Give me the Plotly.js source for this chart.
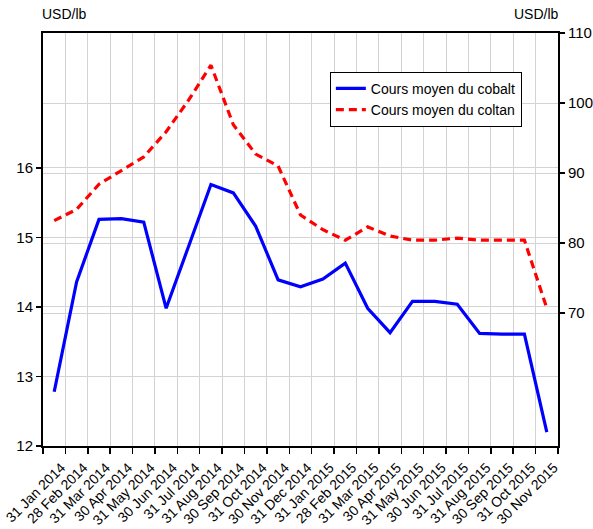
<!DOCTYPE html>
<html><head><meta charset="utf-8">
<script src="https://cdn.plot.ly/plotly-3.0.1.min.js"></script>
<style>html,body{margin:0;padding:0;background:#fff}#chart{width:593px;height:529px}</style>
</head><body><div id="chart"></div>
<script>
const months = ["31 Jan 2014","28 Feb 2014","31 Mar 2014","30 Apr 2014","31 May 2014","30 Jun 2014","31 Jul 2014","31 Aug 2014","30 Sep 2014","31 Oct 2014","30 Nov 2014","31 Dec 2014","31 Jan 2015","28 Feb 2015","31 Mar 2015","30 Apr 2015","31 May 2015","30 Jun 2015","31 Jul 2015","31 Aug 2015","30 Sep 2015","31 Oct 2015","30 Nov 2015"];
const cobalt = [12.78,14.36,15.26,15.27,15.22,13.98,14.87,15.76,15.64,15.16,14.39,14.29,14.40,14.63,13.98,13.63,14.08,14.08,14.04,13.62,13.61,13.61,12.20];
const coltan = [83.2,84.8,88.4,90.3,92.3,95.9,100.4,105.4,96.9,92.7,91.0,84.0,81.9,80.4,82.3,81.0,80.4,80.4,80.7,80.4,80.4,80.4,70.7];
const leftTicks = [12,13,14,15,16];
const rightTicks = [70,80,90,100,110];
const FONT = "Liberation Sans, Arial, sans-serif";

const traces = [
  {x: months, y: cobalt, type: "scatter", mode: "lines", name: "Cours moyen du cobalt",
   line: {color: "#0000FF", width: 3.2}, yaxis: "y"},
  {x: months, y: coltan, type: "scatter", mode: "lines", name: "Cours moyen du coltan",
   line: {color: "#FF0000", width: 3.2, dash: "8px,5px"}, yaxis: "y2"}
];
const layout = {
  width: 593, height: 529,
  margin: {l: 43, r: 35, t: 33, b: 83},
  paper_bgcolor: "#fff", plot_bgcolor: "#fff",
  font: {family: FONT, size: 14, color: "#000"},
  showlegend: true,
  legend: {x: 0.557, y: 0.906, xanchor: "left", yanchor: "top", bgcolor: "#fff",
           bordercolor: "#000", borderwidth: 1, font: {family: FONT, size: 14},
           tracegroupgap: 0, itemwidth: 30},
  xaxis: {type: "category", tickson: "boundaries", tickangle: -45,
          showgrid: true, gridcolor: "#d3d3d3", gridwidth: 1,
          showline: true, linecolor: "#000", linewidth: 2, mirror: true,
          ticks: "outside", ticklen: 6, tickcolor: "#000", tickwidth: 1.5,
          ticklabelstandoff: 6, ticklabelshift: 7,
          tickfont: {family: FONT, size: 14}, range: [-0.5, 22.5], zeroline: false},
  yaxis: {range: [12, 17.94], tickvals: leftTicks, showgrid: true, gridcolor: "#d3d3d3",
          showline: true, linecolor: "#000", linewidth: 2, ticks: "outside", ticklen: 5,
          tickcolor: "#000", tickwidth: 1.5, zeroline: false, tickfont: {family: FONT, size: 15}},
  yaxis2: {range: [51, 110], tickvals: rightTicks, overlaying: "y", side: "right",
          showgrid: true, gridcolor: "#d3d3d3",
          showline: true, linecolor: "#000", linewidth: 2, ticks: "outside", ticklen: 5,
          tickcolor: "#000", tickwidth: 1.5, zeroline: false, tickfont: {family: FONT, size: 15}},
  annotations: [
    {text: "USD/lb", xref: "paper", yref: "paper", x: 0, y: 1, xshift: -3, yshift: 9,
     xanchor: "left", yanchor: "bottom", showarrow: false, font: {family: FONT, size: 14}},
    {text: "USD/lb", xref: "paper", yref: "paper", x: 1, y: 1, xshift: 3, yshift: 9,
     xanchor: "right", yanchor: "bottom", showarrow: false, font: {family: FONT, size: 14}}
  ]
};
Plotly.newPlot("chart", traces, layout, {displayModeBar: false, staticPlot: true});
</script></body></html>
